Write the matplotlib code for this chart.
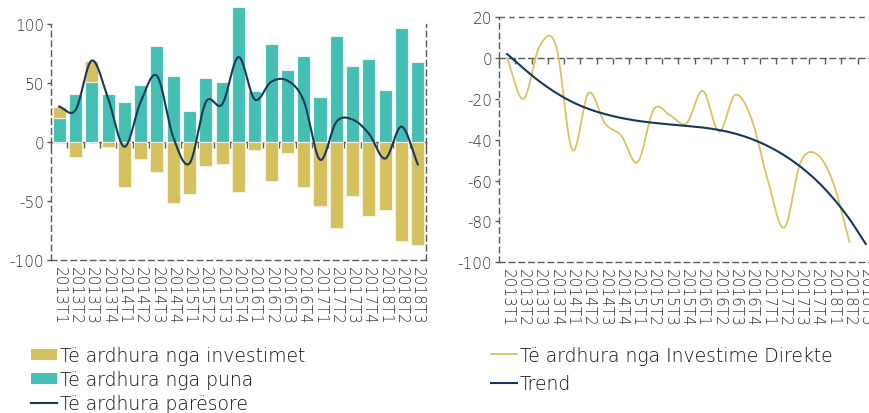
import numpy as np
import matplotlib
matplotlib.use("Agg")
import matplotlib.pyplot as plt
from matplotlib.patches import Patch
from matplotlib.lines import Line2D

plt.rcParams['font.family'] = ['DejaVu Sans']
plt.rcParams['font.weight'] = 'light'

quarters = ["2013T1", "2013T2", "2013T3", "2013T4",
            "2014T1", "2014T2", "2014T3", "2014T4",
            "2015T1", "2015T2", "2015T3", "2015T4",
            "2016T1", "2016T2", "2016T3", "2016T4",
            "2017T1", "2017T2", "2017T3", "2017T4",
            "2018T1", "2018T2", "2018T3"]

investimet = [10, -13, 18, -4, -38, -14, -25, -52, -44, -20, -19, -42,
              -7, -33, -9, -38, -54, -73, -46, -63, -58, -84, -87]
puna = [20, 41, 51, 41, 34, 48, 81, 56, 26, 54, 51, 114,
        43, 83, 61, 73, 38, 90, 64, 70, 44, 97, 68]
paresore = [30, 27, 69, 37, -4, 34, 56, 4, -18, 34, 32, 72,
            36, 51, 52, 35, -15, 17, 19, 7, -14, 13, -19]

direkte = [0, -20, 6, 6, -45, -17, -32, -38, -51, -25, -28, -32,
           -16, -36, -18, -30, -60, -83, -51, -47, -61, -90]
trend = [2, -5, -11.5, -17, -21.5, -24.9, -27.4, -29.3, -30.7, -31.7, -32.5, -33.2,
         -34.0, -35.2, -37.0, -39.6, -43.1, -47.6, -53.2, -60.1, -68.6, -78.8, -91.0]

left_yticks = [-100, -50, 0, 50, 100]
right_yticks = [-100, -80, -60, -40, -20, 0, 20]

C_GOLD = '#D5C05E'
C_TEAL = '#45BFB4'
C_NAVY = '#14395B'
C_YEL = '#D9C460'
C_AX = '#5a5a5a'
C_TXT = '#333333'
DASH = (0, (4, 3))


def smooth(y, n=24):
    y = np.asarray(y, float)
    x = np.arange(len(y), dtype=float)
    P = np.column_stack([x, y])
    P = np.vstack([2 * P[0] - P[1], P, 2 * P[-1] - P[-2]])
    out = []
    t = np.linspace(0, 1, n, endpoint=False)[:, None]
    for i in range(1, len(P) - 2):
        p0, p1, p2, p3 = P[i - 1], P[i], P[i + 1], P[i + 2]
        seg = 0.5 * (2 * p1 + (-p0 + p2) * t + (2 * p0 - 5 * p1 + 4 * p2 - p3) * t ** 2
                     + (-p0 + 3 * p1 - 3 * p2 + p3) * t ** 3)
        out.append(seg)
    out.append(P[-2][None, :])
    out = np.vstack(out)
    return out[:, 0], out[:, 1]


def style_axes(ax, n, ymin, ymax, yticks, right_spine=True):
    ax.set_xlim(-0.5, n - 0.5)
    ax.set_ylim(ymin, ymax)
    for s in ['left', 'bottom', 'right']:
        ax.spines[s].set_linestyle(DASH)
        ax.spines[s].set_color(C_AX)
        ax.spines[s].set_linewidth(1.0)
    ax.spines['top'].set_visible(False)
    ax.spines['right'].set_visible(right_spine)
    ax.set_yticks(yticks)
    ax.set_yticklabels([str(v) for v in yticks])
    ax.tick_params(axis='y', length=3, width=1, color=C_AX, labelcolor=C_TXT,
                   labelsize=11, pad=2)
    ax.set_xticks(np.arange(n))
    ax.set_xticklabels(quarters[:n], rotation=-90, va='top', ha='center')
    ax.tick_params(axis='x', length=0, labelcolor=C_TXT, labelsize=11, pad=4)
    loc = (0 - ymin) / (ymax - ymin)
    sec = ax.secondary_xaxis(loc)
    sec.set_xticks(np.arange(n + 1) - 0.5)
    sec.set_xticklabels([])
    sec.tick_params(direction='in', length=4, width=1, color=C_AX)
    for s in sec.spines.values():
        s.set_linestyle(DASH)
        s.set_color(C_AX)
        s.set_linewidth(1.0)


fig = plt.figure(figsize=(8.7, 4.14), dpi=100)

# Left panel
ax1 = fig.add_axes([51 / 870, 1 - 261 / 414, 375 / 870, 236 / 414])
n = len(quarters)
x = np.arange(n)
inv = np.array(investimet, float)
pun = np.array(puna, float)
ax1.bar(x, pun, width=0.8, color=C_TEAL, edgecolor='#e8f6f4', linewidth=0.8,
        clip_on=False, zorder=2)
ax1.bar(x, inv, width=0.8, bottom=np.where(inv > 0, pun, 0), color=C_GOLD,
        edgecolor='#f6f1dc', linewidth=0.8, clip_on=False, zorder=2)
sx, sy = smooth(paresore)
ax1.plot(sx, sy, color=C_NAVY, lw=1.5, zorder=3)
style_axes(ax1, n, -100, 100, left_yticks, right_spine=True)

# Right panel
ax2 = fig.add_axes([499 / 870, 1 - 263.3 / 414, 374.9 / 870, 245 / 414])
sx, sy = smooth(direkte)
ax2.plot(sx, sy, color=C_YEL, lw=1.3, zorder=3)
tx, ty = smooth(trend)
ax2.plot(tx, ty, color=C_NAVY, lw=1.5, zorder=3)
style_axes(ax2, n, -100, 20, right_yticks, right_spine=False)
ax2.axhline(20, color=C_AX, lw=1.0, linestyle=DASH, clip_on=False)

# Legends
h1 = [Patch(facecolor=C_GOLD, edgecolor='none'),
      Patch(facecolor=C_TEAL, edgecolor='none'),
      Line2D([], [], color=C_NAVY, lw=1.5)]
l1 = ["Të ardhura nga investimet", "Të ardhura nga puna", "Të ardhura parësore"]
fig.legend(h1, l1, loc='upper left', bbox_to_anchor=(31 / 870, 1 - 347 / 414),
           frameon=False, fontsize=13.5, handlelength=1.4, handleheight=0.55,
           handletextpad=0.15, labelspacing=0.28, borderpad=0, borderaxespad=0,
           labelcolor='#111111')

h2 = [Line2D([], [], color=C_YEL, lw=1.3), Line2D([], [], color=C_NAVY, lw=1.5)]
l2 = ["Të ardhura nga Investime Direkte", "Trend"]
fig.legend(h2, l2, loc='upper left', bbox_to_anchor=(491 / 870, 1 - 347 / 414),
           frameon=False, fontsize=13.5, handlelength=1.4,
           handletextpad=0.15, labelspacing=0.5, borderpad=0, borderaxespad=0,
           labelcolor='#111111')

fig.savefig('out.png', dpi=100)
